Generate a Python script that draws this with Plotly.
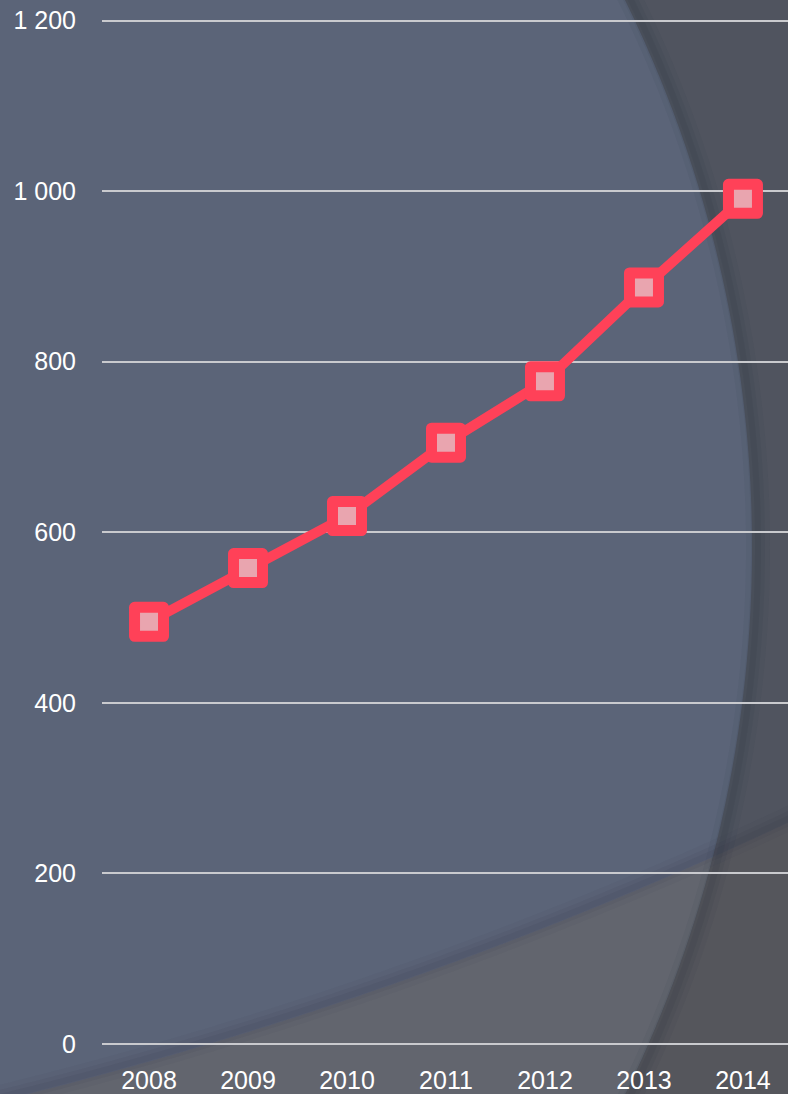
import numpy as np
import plotly.graph_objects as go

years = ["2008", "2009", "2010", "2011", "2012", "2013", "2014"]
values = [495, 558, 619, 705, 777, 887, 991]
y_ticks = [0, 200, 400, 600, 800, 1000, 1200]

W, H = 788, 1094
YMAX = 1210
ML, MR, MT, MB = 102, 0, 12, 45
PW, PH = W - ML - MR, H - MT - MB

def px2paper(x, y):
    return (x - ML) / PW, (H - MB - y) / PH

def path_from(points):
    pts = [px2paper(x, y) for x, y in points]
    return "M " + " L ".join(f"{a:.5f},{b:.5f}" for a, b in pts) + " Z"

def open_path(points):
    pts = [px2paper(x, y) for x, y in points]
    return "M " + " L ".join(f"{a:.5f},{b:.5f}" for a, b in pts)

# circle 1 (right dark region outside)
c1x, c1y, R1 = -502.0, 550.0, 1254.0
# circle 2 (lower lighter region outside)
c2x, c2y, R2 = -1010.0, -2990.0, 4219.0

def c1_x(y):
    return c1x + np.sqrt(R1**2 - (y - c1y) ** 2)

def c2_y(x):
    return c2y + np.sqrt(R2**2 - (x - c2x) ** 2)

xs = np.linspace(-20, 820, 4000)
diff = np.array([c1_x(c2_y(x)) - x for x in xs])
idx = np.where(np.sign(diff[:-1]) != np.sign(diff[1:]))[0][0]
Px = xs[idx]
Py = c2_y(Px)

top, bot, left, right = -20, H + 20, -20, W + 20

ys = np.linspace(top, bot, 200)
right_pts = [(c1_x(y), y) for y in ys] + [(right, bot), (right, top)]
xa = np.linspace(left, Px, 200)
ys2 = np.linspace(Py, bot, 100)
lower_pts = [(x, c2_y(x)) for x in xa] + [(c1_x(y), y) for y in ys2] + [(left, bot)]
xb = np.linspace(Px, right, 100)
ov_pts = [(x, c2_y(x)) for x in xb] + [(right, bot)] + [(c1_x(y), y) for y in ys2[::-1]]

shapes = []
for pts, col in [(right_pts, "#50545F"), (lower_pts, "#62656E"), (ov_pts, "#55565C")]:
    shapes.append(dict(type="path", path=path_from(pts), xref="paper", yref="paper",
                       fillcolor=col, line=dict(width=0), layer="below"))

edge1 = [(c1_x(y) + 6, y) for y in ys]
edge2 = [(x, c2_y(x) - 4) for x in np.linspace(left, right, 200)]
for w, op in [(24, 0.06), (14, 0.08), (6, 0.1)]:
    shapes.append(dict(type="path", path=open_path(edge1), xref="paper", yref="paper",
                       line=dict(width=w, color=f"rgba(40,45,60,{op})"), layer="below"))
    shapes.append(dict(type="path", path=open_path(edge2), xref="paper", yref="paper",
                       line=dict(width=w, color=f"rgba(40,45,60,{op*0.7})"), layer="below"))

fig = go.Figure()
fig.add_trace(go.Scatter(
    x=years, y=values, mode="lines+markers",
    line=dict(color="#FF4158", width=10),
    marker=dict(symbol="square", size=29, color="#E9A5AF",
                line=dict(color="#FF4158", width=11)),
    cliponaxis=False, hoverinfo="skip", showlegend=False,
))

fig.update_layout(
    width=W, height=H,
    margin=dict(l=ML, r=MR, t=MT, b=MB),
    paper_bgcolor="#5B6478", plot_bgcolor="rgba(0,0,0,0)",
    font=dict(family="Liberation Sans, Arial, sans-serif", size=25, color="#FFFFFF"),
    separators=", ",
    shapes=shapes,
    xaxis=dict(type="category", range=[-0.475, 6.455], showgrid=False, zeroline=False,
               showline=False, ticks="outside", ticklen=14, tickcolor="rgba(0,0,0,0)",
               tickfont=dict(size=25, color="#FFFFFF")),
    yaxis=dict(range=[0, YMAX], tickvals=y_ticks, separatethousands=True,
               showgrid=True, gridcolor="#C9CACE", gridwidth=2,
               zeroline=True, zerolinecolor="#C9CACE", zerolinewidth=2,
               showline=False, ticks="outside", ticklen=20, tickcolor="rgba(0,0,0,0)",
               tickfont=dict(size=25, color="#FFFFFF")),
)

post = ("document.body.style.margin='0';document.body.style.padding='0';"
        "document.body.style.overflow='hidden';"
        "document.querySelectorAll('.scatterlayer .point').forEach(function(p){"
        "p.style.strokeLinejoin='round';});")
fig.write_html("out.html", config={"displayModeBar": False}, post_script=post)
